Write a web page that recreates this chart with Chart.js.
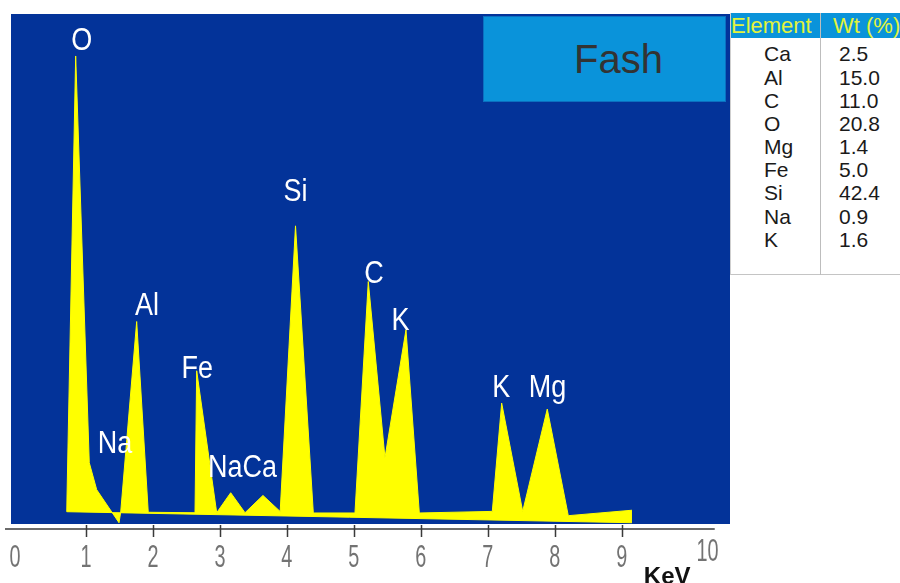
<!DOCTYPE html>
<html>
<head>
<meta charset="utf-8">
<script src="https://cdn.jsdelivr.net/npm/chart.js@4.4.1/dist/chart.umd.min.js"></script>
<style>
  body { margin: 0; background: #fff; }
  .wrap { position: relative; width: 900px; height: 583px; overflow: hidden; font-family: "Liberation Sans", Arial, sans-serif; }
  #spectrum { position: absolute; left: 0; top: 0; }
  .fash {
    position: absolute; left: 483px; top: 16px; width: 243px; height: 86px; box-sizing: border-box;
    background: #0a93da; border: 1px solid #0b70c0; color: #333; font-size: 40px; line-height: 84px;
    text-align: center; padding-left: 28px;
  }
  .tbl {
    position: absolute; left: 730px; top: 13px; width: 170px; height: 262px; box-sizing: border-box;
    background: #fff; border-left: 1px solid #cfcfcf; border-bottom: 1px solid #c4c4c4;
  }
  .hdr { position: absolute; left: 0; top: 0; width: 170px; height: 25px; background: #0a93da; }
  .hdr span { position: absolute; top: 0; line-height: 25px; font-size: 22px; color: #e3f33a; white-space: nowrap; }
  .divider { position: absolute; left: 89px; top: 0; width: 1px; height: 262px; background: #bdbdbd; }
  .rows { position: absolute; left: 0; top: 29.35px; width: 170px; }
  .row { position: relative; height: 23.2px; line-height: 23.2px; font-size: 21px; color: #1a1a1a; }
  .row span { position: absolute; top: 0; }
</style>
</head>
<body>
<div class="wrap">
  <canvas id="spectrum" width="900" height="583"></canvas>
  <div class="fash">Fash</div>
  <div class="tbl">
    <div class="hdr"><span style="left:0px">Element</span><span style="left:102px">Wt (%)</span></div>
    <div class="divider"></div>
    <div class="rows" id="rows"></div>
  </div>
</div>
<script>
  // spectrum outline (keV, counts)
  const spectrumKeV = [0.712, 0.846, 1.049, 1.160, 1.493, 1.518, 1.757, 1.930, 2.628, 2.653, 2.952, 3.161, 3.375, 3.643, 3.900, 4.129, 4.395, 5.017, 5.216, 5.465, 5.779, 5.978, 7.068, 7.208, 7.522, 7.889, 8.203, 9.154];
  const spectrumCounts = [2.41, 91.77, 12.01, 6.72, 0.25, 2.27, 39.70, 2.30, 2.21, 30.04, 2.21, 6.13, 2.21, 5.60, 2.45, 58.46, 2.16, 2.16, 47.54, 12.99, 38.08, 2.16, 2.47, 23.71, 2.47, 22.54, 1.63, 2.70];

  // sloping background line under the spectrum
  const baselineKeV = [0.712, 9.154];
  const baselineCounts = [2.41, 0.25];

  // peak labels
  const peakNames = ['O', 'Na', 'Al', 'Fe', 'NaCa', 'Si', 'C', 'K', 'K', 'Mg'];
  const peakKeV = [0.936, 1.433, 1.911, 2.661, 3.337, 4.129, 5.301, 5.697, 7.202, 7.892];
  const peakCounts = [92.95, 13.97, 41.02, 28.6, 9.27, 63.36, 47.29, 38.07, 24.95, 24.95];

  // x axis
  const tickValues = [1, 2, 3, 4, 5, 6, 7, 8, 9];
  const tickLabels = ['0', '1', '2', '3', '4', '5', '6', '7', '8', '9', '10'];

  // composition table
  const elements = ['Ca', 'Al', 'C', 'O', 'Mg', 'Fe', 'Si', 'Na', 'K'];
  const weights = ['2.5', '15.0', '11.0', '20.8', '1.4', '5.0', '42.4', '0.9', '1.6'];

  const rowsEl = document.getElementById('rows');
  elements.forEach((el, i) => {
    const row = document.createElement('div');
    row.className = 'row';
    row.innerHTML = '<span style="left:33px">' + el + '</span><span style="left:108px">' + weights[i] + '</span>';
    rowsEl.appendChild(row);
  });

  function squishText(ctx, text, px, py, sx) {
    ctx.save();
    ctx.translate(px, py);
    ctx.scale(sx, 1);
    ctx.fillText(text, 0, 0);
    ctx.restore();
  }

  const plotDecor = {
    id: 'plotDecor',
    beforeDatasetsDraw(chart) {
      const { ctx, chartArea: a } = chart;
      ctx.save();
      ctx.fillStyle = '#033399';
      ctx.fillRect(a.left, a.top, a.right - a.left, a.bottom - a.top);
      ctx.restore();
    },
    afterDraw(chart) {
      const { ctx, chartArea: a, scales: { x, y } } = chart;
      ctx.save();

      // peak names
      ctx.fillStyle = '#ffffff';
      ctx.font = '31px "Liberation Sans", Arial, sans-serif';
      ctx.textAlign = 'center';
      ctx.textBaseline = 'alphabetic';
      peakNames.forEach((name, i) => {
        squishText(ctx, name, x.getPixelForValue(peakKeV[i]), y.getPixelForValue(peakCounts[i]), 0.87);
      });

      // axis line + ticks
      const axisY = a.bottom + 5;
      ctx.strokeStyle = '#3a3a3a';
      ctx.lineWidth = 1.5;
      ctx.beginPath();
      ctx.moveTo(x.getPixelForValue(-0.21), axisY);
      ctx.lineTo(x.getPixelForValue(10.39), axisY);
      ctx.stroke();
      ctx.beginPath();
      tickValues.forEach(v => {
        const px = Math.round(x.getPixelForValue(v)) + 0.5;
        ctx.moveTo(px, axisY - 4);
        ctx.lineTo(px, axisY + 8);
      });
      ctx.stroke();

      // tick labels (first and last sit a little off their ticks in the original)
      ctx.fillStyle = '#737373';
      ctx.font = '32px "Liberation Sans", Arial, sans-serif';
      tickLabels.forEach((t, i) => {
        let px = x.getPixelForValue(i);
        let py = axisY + 38;
        if (i === 0) px -= 4;
        if (i === tickLabels.length - 1) { px += 19; py -= 6; }
        squishText(ctx, t, px, py, 0.62);
      });

      // axis title
      ctx.fillStyle = '#111';
      ctx.font = 'bold 24px "Liberation Sans", Arial, sans-serif';
      ctx.fillText('KeV', x.getPixelForValue(9.68), axisY + 55);

      ctx.restore();
    }
  };

  const ctx = document.getElementById('spectrum').getContext('2d');
  new Chart(ctx, {
    type: 'line',
    data: {
      datasets: [
        {
          data: spectrumKeV.map((k, i) => ({ x: k, y: spectrumCounts[i] })),
          borderColor: '#ffff00',
          backgroundColor: '#ffff00',
          borderWidth: 1,
          pointRadius: 0,
          tension: 0,
          fill: '+1'
        },
        {
          data: baselineKeV.map((k, i) => ({ x: k, y: baselineCounts[i] })),
          borderColor: '#ffff00',
          borderWidth: 1,
          pointRadius: 0,
          tension: 0,
          fill: false
        }
      ]
    },
    options: {
      responsive: false,
      animation: false,
      layout: { padding: { left: 11, top: 14, right: 170, bottom: 59 } },
      scales: {
        x: { type: 'linear', min: -0.12, max: 10.618, display: false },
        y: { min: 0, max: 100, display: false }
      },
      plugins: {
        legend: { display: false },
        tooltip: { enabled: false }
      }
    },
    plugins: [plotDecor]
  });
</script>
</body>
</html>
